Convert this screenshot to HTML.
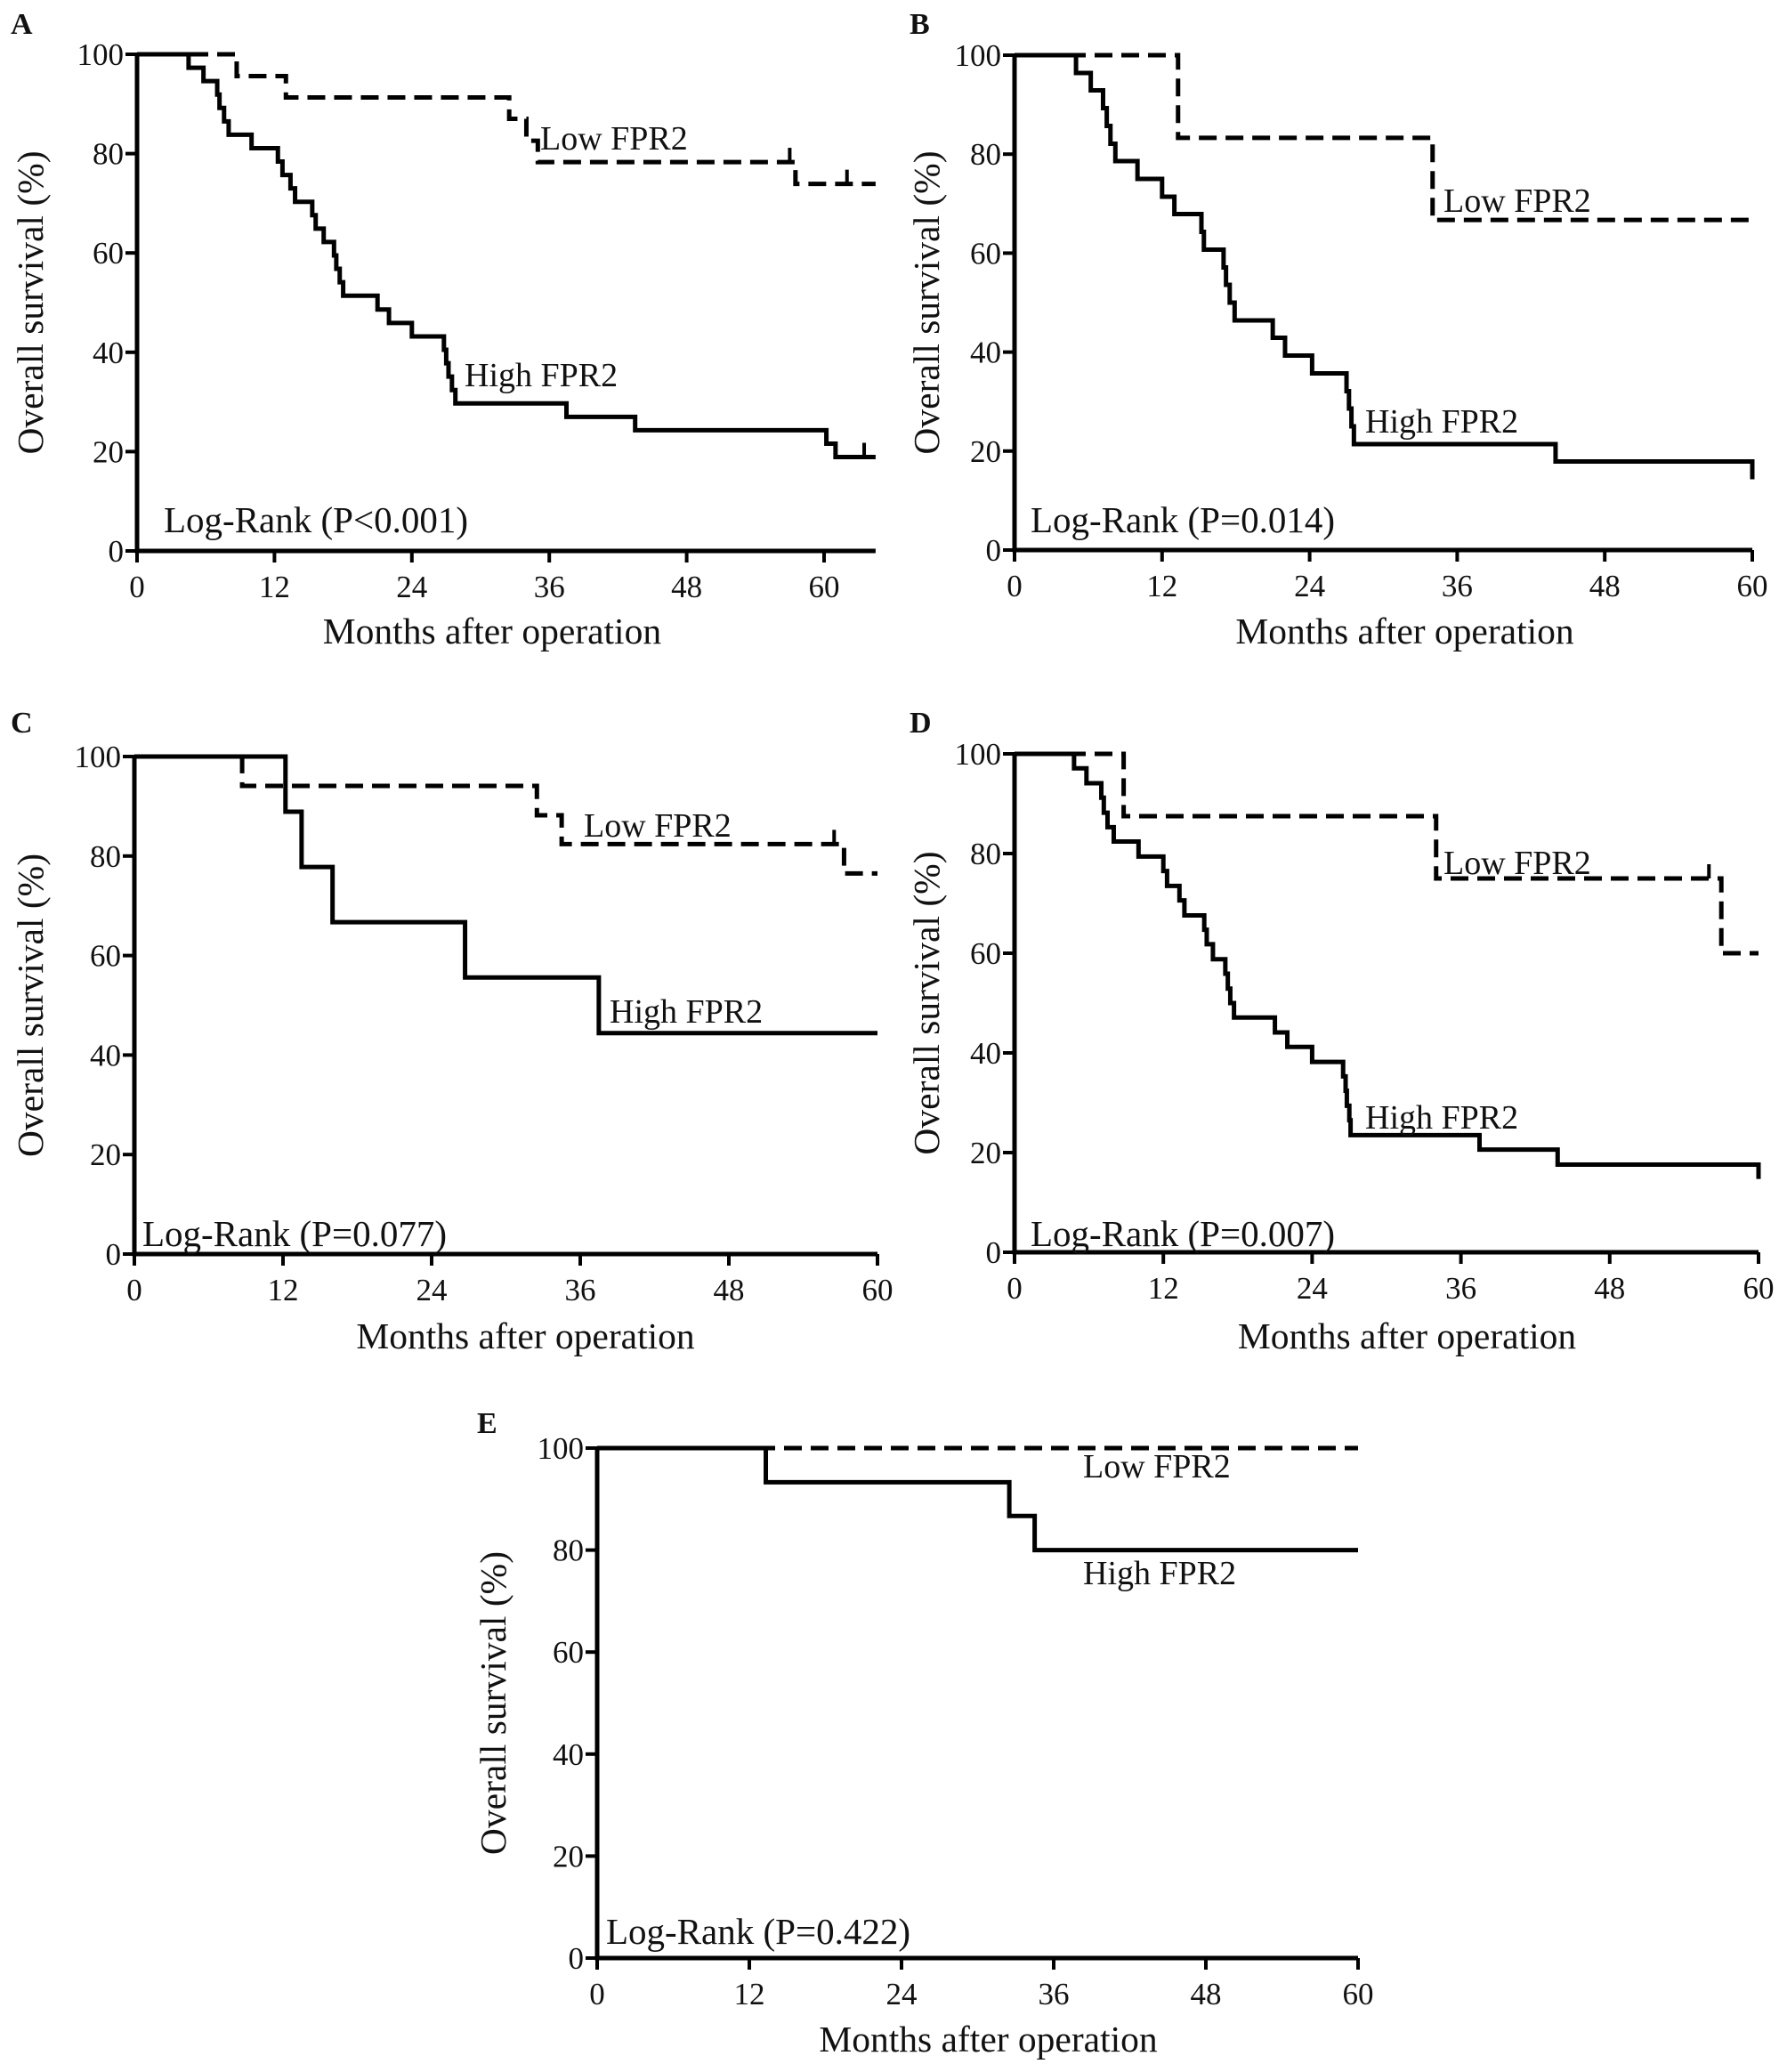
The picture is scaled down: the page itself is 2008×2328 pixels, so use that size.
<!DOCTYPE html>
<html><head><meta charset="utf-8"><style>
html,body{margin:0;padding:0;background:#fff}
svg text{font-family:"Liberation Serif",serif;fill:#111}
</style></head><body>
<svg id="fig" width="2008" height="2323" viewBox="0 0 2008 2323" xmlns="http://www.w3.org/2000/svg"></svg>
<script>
// ---- data (months, survival %) ----
const aHighT=[4.5,5.8,7,7.2,7.6,8,10,12.3,12.7,13.4,13.8,15.3,15.6,16.3,17.2,17.4,17.7,18,21,22,24,26.8,27,27.2,27.5,27.8,37.5,43.5,60.2,61];
const aHighS=[97.3,94.6,91.9,89.2,86.5,83.8,81.1,78.4,75.7,73,70.3,67.6,64.9,62.2,59.5,56.8,54.1,51.4,48.6,45.9,43.2,40.5,37.8,35.1,32.4,29.7,27,24.3,21.6,18.9];
const aHighCens=[63.5];
const aLowT=[8.7,13,32.5,34,35,57.5];
const aLowS=[95.6,91.3,87,82.6,78.3,73.9];
const aLowCens=[57,62];
const bHighT=[5,6.2,7.2,7.5,7.8,8.2,10,12,13,15.2,15.4,17,17.2,17.5,17.9,21,22,24.2,27,27.2,27.4,27.6,44];
const bHighS=[96.4,92.9,89.3,85.7,82.1,78.6,75,71.4,67.9,64.3,60.7,57.1,53.6,50,46.4,42.9,39.3,35.7,32.1,28.6,25,21.4,17.9];
const bLowT=[13.3,34];
const bLowS=[83.3,66.7];
const cHighT=[12.2,13.5,16,26.7,37.5];
const cHighS=[88.9,77.8,66.7,55.6,44.4];
const cLowT=[8.7,32.5,34.5,57.3];
const cLowS=[94.1,88.2,82.4,76.5];
const cLowCens=[56.5];
const dHighT=[4.8,5.8,7,7.2,7.5,8,10,12,12.3,13.3,13.7,15.3,15.5,16,17,17.2,17.4,17.7,21,22,24,26.5,26.7,26.8,27,27.1,37.5,43.8,60];
const dHighS=[97.1,94.1,91.2,88.2,85.3,82.4,79.4,76.5,73.5,70.6,67.6,64.7,61.8,58.8,55.9,52.9,50,47.1,44.1,41.2,38.2,35.3,32.4,29.4,26.5,23.5,20.6,17.6,14.7];
const dLowT=[8.8,34,57];
const dLowS=[87.5,75,60];
const dLowCens=[56];
const eHighT=[13.3,32.5,34.5];
const eHighS=[93.3,86.7,80];
const eLowT=[];
const eLowS=[];
const xTicks=[0,12,24,36,48,60];
const yTicks=[0,20,40,60,80,100];
const bHighEndDrop=[60,14.3];

const NS="http://www.w3.org/2000/svg";
const svg=document.getElementById('fig');
function mk(tag,attrs,parent){const e=document.createElementNS(NS,tag);for(const k in attrs)e.setAttribute(k,attrs[k]);(parent||svg).appendChild(e);return e;}

function panel(p){
  const g=mk('g',{});
  
  
  const X=m=>p.x0+(p.x60-p.x0)*m/60;
  const Y=v=>p.y0+(p.y100-p.y0)*v/100;
  const ax=mk('path',{d:`M${X(0)} ${Y(100)} L${X(0)} ${Y(0)} L${X(p.xmax)} ${Y(0)}`,stroke:'#000','stroke-width':5,fill:'none'},g);
  
  
  xTicks.forEach(t=>{
    mk('line',{x1:X(t),x2:X(t),y1:Y(0),y2:Y(0)+13,stroke:'#000','stroke-width':4},g);
    const tx=mk('text',{x:X(t),y:Y(0)+52,'font-size':35,'text-anchor':'middle'},g);
    tx.textContent=t;
    
    
  });
  yTicks.forEach(t=>{
    mk('line',{x1:X(0)-13,x2:X(0),y1:Y(t),y2:Y(t),stroke:'#000','stroke-width':4},g);
    const tx=mk('text',{x:X(0)-15,y:Y(t)+12,'font-size':35,'text-anchor':'end'},g);
    tx.textContent=t;
    
    
  });
  function step(T,S,end,dash,name,extra){
    let d=`M${X(0)} ${Y(100)}`;let cur=100;
    T.forEach((t,i)=>{d+=` L${X(t)} ${Y(cur)} L${X(t)} ${Y(S[i])}`;cur=S[i];});
    d+=` L${X(end)} ${Y(cur)}`;
    if(extra)d+=` L${X(extra[0])} ${Y(extra[1])}`;
    const pth=mk('path',{d:d,stroke:'#000','stroke-width':5,fill:'none','stroke-dasharray':dash?'20 10':'none'},g);
    
    
    return cur;
  }
  function cens(C,T,S){C.forEach(c=>{let v=100;T.forEach((t,i)=>{if(t<=c)v=S[i];});
    const l=mk('line',{x1:X(c),x2:X(c),y1:Y(v),y2:Y(v)-16,stroke:'#000','stroke-width':4},g);
    
    });}
  step(p.lowT,p.lowS,p.end,true,'low-fpr2-curve');
  step(p.highT,p.highS,p.end,false,'high-fpr2-curve',p.highExtra);
  cens(p.lowC||[],p.lowT,p.lowS);cens(p.highC||[],p.highT,p.highS);
  function txt(x,y,s,size,name,anchor,rot){
    const t=mk('text',{x:x,y:y,'font-size':size,'text-anchor':anchor||'start'},g);
    if(rot)t.setAttribute('transform',`rotate(-90 ${x} ${y})`);
    t.textContent=s;
    
    
  }
  txt(p.lx,p.ly,p.letter,34,'panel-letter',null);
  g.lastChild.setAttribute('font-weight','bold');
  txt(p.lowL[0],p.lowL[1],'Low FPR2',38,'low-fpr2-label');
  txt(p.highL[0],p.highL[1],'High FPR2',38,'high-fpr2-label');
  txt(p.lr[0],p.lr[1],p.lrText,41,'log-rank-label');
  txt((X(0)+X(p.xmax))/2+p.xtOff,p.xt,'Months after operation',41.5,'x-axis-title','middle');
  txt(p.yt,(Y(0)+Y(100))/2,'Overall survival (%)',41.5,'y-axis-title','middle',true);
}

panel({letter:'A',x0:154,x60:926,y0:619,y100:61,xmax:64.5,lowT:aLowT,lowS:aLowS,highT:aHighT,highS:aHighS,lowC:aLowCens,highC:aHighCens,end:64.5,
  lx:12,ly:38,lowL:[607,168],highL:[522,434],lr:[184,598],lrText:'Log-Rank (P<0.001)',xt:723,xtOff:-16,yt:48});
panel({letter:'B',x0:1140,x60:1969,y0:618,y100:62,xmax:60,lowT:bLowT,lowS:bLowS,highT:bHighT,highS:bHighS,end:60,highExtra:bHighEndDrop,
  lx:1022,ly:38,lowL:[1622,238],highL:[1534,486],lr:[1158,598],lrText:'Log-Rank (P=0.014)',xt:723,xtOff:24,yt:1055});
panel({letter:'C',x0:151,x60:986,y0:1409,y100:850,xmax:60,lowT:cLowT,lowS:cLowS,highT:cHighT,highS:cHighS,lowC:cLowCens,end:60,
  lx:12,ly:823,lowL:[656,940],highL:[685,1149],lr:[160,1400],lrText:'Log-Rank (P=0.077)',xt:1515,xtOff:22,yt:48});
panel({letter:'D',x0:1140,x60:1976,y0:1407,y100:847,xmax:60,lowT:dLowT,lowS:dLowS,highT:dHighT,highS:dHighS,lowC:dLowCens,end:60,
  lx:1022,ly:823,lowL:[1622,982],highL:[1534,1268],lr:[1158,1400],lrText:'Log-Rank (P=0.007)',xt:1515,xtOff:23,yt:1055});
panel({letter:'E',x0:671,x60:1526,y0:2200,y100:1627,xmax:60,lowT:eLowT,lowS:eLowS,highT:eHighT,highS:eHighS,end:60,
  lx:536,ly:1610,lowL:[1217,1660],highL:[1217,1780],lr:[681,2184],lrText:'Log-Rank (P=0.422)',xt:2305,xtOff:12,yt:568});
</script>
</body></html>
